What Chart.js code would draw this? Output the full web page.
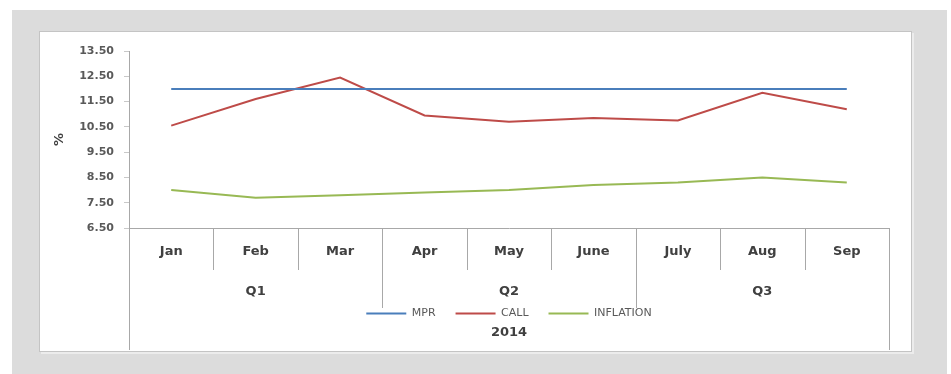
<!DOCTYPE html>
<html>
<head>
<meta charset="utf-8">
<script src="https://cdn.jsdelivr.net/npm/chart.js@4.4.1/dist/chart.umd.min.js"></script>
<style>
  html, body { margin: 0; padding: 0; background: #fff; }
  .backdrop { position: absolute; left: 12px; top: 10px; width: 935px; height: 364px; background: #dcdcdc; }
  .panel { position: absolute; left: 39px; top: 31px; width: 871px; height: 319px; background: #fff; border: 1px solid #c4c4c4; box-shadow: 2px 2px 0 #ececec; }
  canvas { position: absolute; left: 0; top: 0; }
</style>
</head>
<body>
<div class="backdrop"></div>
<div class="panel"><canvas id="rates" width="871" height="319"></canvas></div>
<script>
// Monthly rates, 2014
const months = ['Jan', 'Feb', 'Mar', 'Apr', 'May', 'June', 'July', 'Aug', 'Sep'];
const quarters = ['Q1', 'Q2', 'Q3'];
const yearLabel = '2014';
const mpr = [12.0, 12.0, 12.0, 12.0, 12.0, 12.0, 12.0, 12.0, 12.0];
const call = [10.55, 11.6, 12.45, 10.95, 10.7, 10.85, 10.75, 11.85, 11.2];
const inflation = [8.0, 7.7, 7.8, 7.9, 8.0, 8.2, 8.3, 8.5, 8.3];

const axisColor = '#a8a8a8';
const textDark = '#404040';
const FONT = 'DejaVu Sans';

// Grouped category axis: month cells, quarter row, year row
const groupedAxis = {
    id: 'groupedAxis',
    afterDraw(chart) {
        const ctx = chart.ctx;
        const x = chart.scales.x;
        const { left, right, bottom } = chart.chartArea;
        const step = x.getPixelForValue(1) - x.getPixelForValue(0);
        const perQuarter = months.length / quarters.length;

        ctx.save();
        ctx.strokeStyle = axisColor;
        ctx.lineWidth = 1;
        ctx.beginPath();
        for (let i = 1; i < months.length; i++) {
            const px = Math.round(x.getPixelForValue(i) - step / 2) + 0.5;
            const len = i % perQuarter === 0 ? 80 : 42;
            ctx.moveTo(px, bottom);
            ctx.lineTo(px, bottom + len);
        }
        ctx.moveTo(Math.round(left) + 0.5, bottom);
        ctx.lineTo(Math.round(left) + 0.5, chart.height - 1);
        ctx.moveTo(Math.round(right) + 0.5, bottom);
        ctx.lineTo(Math.round(right) + 0.5, chart.height - 1);
        ctx.stroke();

        ctx.fillStyle = textDark;
        ctx.textAlign = 'center';
        ctx.textBaseline = 'middle';
        ctx.font = `bold 13px "${FONT}"`;
        months.forEach((m, i) => ctx.fillText(m, x.getPixelForValue(i), bottom + 24));
        quarters.forEach((q, i) => {
            const mid = x.getPixelForValue(i * perQuarter + (perQuarter - 1) / 2);
            ctx.fillText(q, mid, bottom + 64);
        });
        ctx.fillText(yearLabel, (left + right) / 2, bottom + 105);
        ctx.restore();
    }
};

new Chart(document.getElementById('rates'), {
    type: 'line',
    data: {
        labels: months,
        datasets: [
            { label: 'MPR', data: mpr, borderColor: '#4a7ebb', backgroundColor: '#4a7ebb', borderWidth: 2 },
            { label: 'CALL', data: call, borderColor: '#be4b48', backgroundColor: '#be4b48', borderWidth: 2 },
            { label: 'INFLATION', data: inflation, borderColor: '#98b954', backgroundColor: '#98b954', borderWidth: 2 }
        ]
    },
    options: {
        responsive: false,
        animation: false,
        layout: { padding: { left: 10, right: 22, top: 19, bottom: 22 } },
        elements: {
            line: { tension: 0 },
            point: { radius: 0 }
        },
        plugins: {
            tooltip: { enabled: false },
            legend: {
                position: 'bottom',
                fullSize: false,
                labels: {
                    usePointStyle: true,
                    pointStyle: 'line',
                    pointStyleWidth: 40,
                    boxHeight: 10,
                    padding: 20,
                    color: '#595959',
                    font: { family: FONT, size: 11 }
                }
            }
        },
        scales: {
            x: {
                offset: true,
                grid: { display: false },
                border: { display: true, color: axisColor },
                ticks: { display: false },
                afterFit: (scale) => { scale.height = 60; }
            },
            y: {
                min: 6.5,
                max: 13.5,
                ticks: {
                    stepSize: 1,
                    padding: 10,
                    color: '#595959',
                    font: { family: FONT, size: 11, weight: 'bold' },
                    callback: (v) => v.toFixed(2)
                },
                grid: { drawOnChartArea: false, tickLength: 5, color: '#c8c8c8' },
                border: { color: axisColor },
                title: {
                    display: true,
                    text: '%',
                    color: textDark,
                    padding: { top: 2, bottom: 4 },
                    font: { family: FONT, size: 13, weight: 'bold' }
                },
                afterFit: (scale) => { scale.width = 79; }
            }
        }
    },
    plugins: [groupedAxis]
});
</script>
</body>
</html>
